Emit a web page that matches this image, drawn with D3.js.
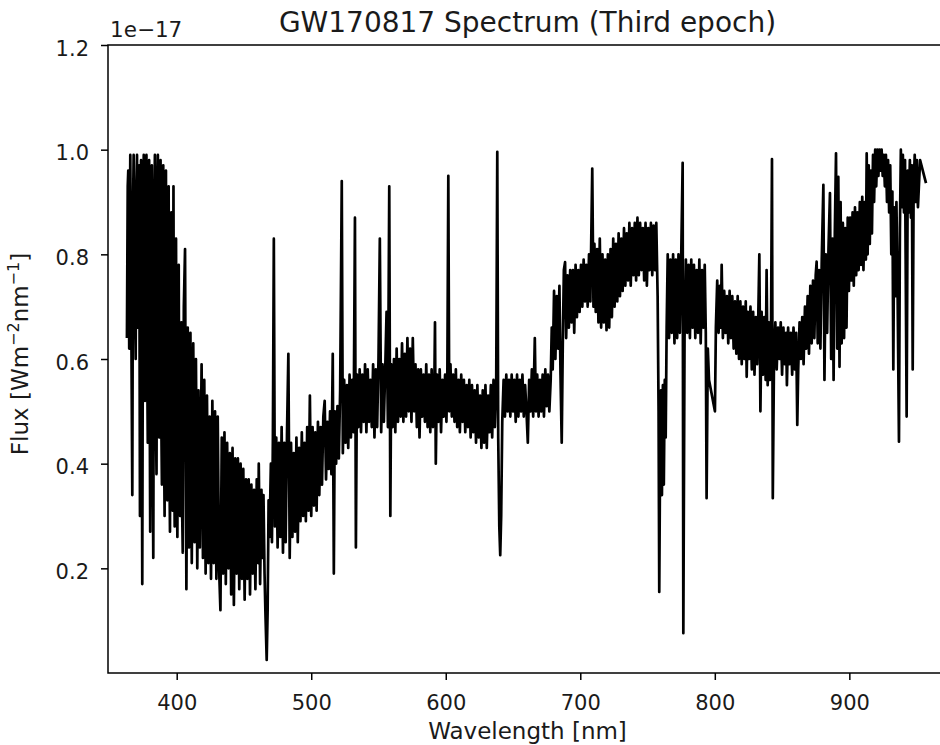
<!DOCTYPE html>
<html><head><meta charset="utf-8">
<script src="https://cdn.jsdelivr.net/npm/d3@7"></script>
<style>html,body{margin:0;padding:0;background:#fff;overflow:hidden}svg{display:block}</style>
</head><body><svg id="chart" width="940" height="745"></svg>
<script>
// Wavelength (nm) and flux (units of 1e-17 W m^-2 nm^-1)
const wavelength = [
363.0,363.6,364.0,364.7,365.5,366.2,367.0,367.5,368.0,368.7,
369.5,370.0,370.5,371.0,371.5,372.1,372.7,373.1,373.5,374.0,
374.4,375.0,375.5,376.0,376.5,377.0,377.5,378.0,378.5,379.0,
379.5,379.9,380.3,380.9,381.5,382.0,382.6,383.2,383.8,384.4,
385.0,385.5,386.0,386.5,387.0,387.5,388.0,388.5,389.0,389.5,
390.0,390.5,391.0,391.5,392.0,392.5,393.0,393.5,394.0,394.5,
395.0,395.5,396.0,396.5,397.0,397.6,398.0,398.5,399.0,399.5,
400.0,400.5,401.0,401.5,402.0,402.5,403.0,403.5,404.0,
404.5,405.3,406.2,407.2,408.2,409.2,410.2,411.2,412.3,413.3,
414.3,415.3,416.2,417.2,418.5,419.5,420.5,421.5,422.5,423.5,
424.5,425.5,426.5,427.5,428.5,429.5,430.5,431.5,432.5,433.5,
434.5,435.5,436.5,437.5,438.5,439.5,440.5,441.5,442.5,443.5,
444.5,445.5,446.5,447.5,448.5,449.5,450.5,451.5,452.5,453.5,
454.5,455.5,456.5,457.5,458.5,459.5,460.5,461.0,462.0,463.0,
464.0,464.5,465.3,466.0,466.9,467.6,468.3,469.0,470.0,470.8,
471.5,472.2,473.0,474.0,475.0,476.0,477.0,478.0,479.0,480.0,
481,482,483,484,485,486,487,488,489,490,
491,492,493,494,495,496,497,498,499,500,
501,502,503,504,505,506,507,508,509,510,
511,512,513,514,515,516,516.8,517.5,518.5,519.5,
520.5,521.5,522.7,523.5,524.5,525.5,526.5,527.5,528.5,529.5,
530.5,531.5,532.5,533.2,534,535,536,537,538,539,
540,541,542,543,544,545,546,547,548,549,
550,551,552,553,554,555,556,557,558,558.8,
559.5,560.5,561.5,562.5,563.5,564.5,565.5,566.5,567.5,568.5,
569.5,570.5,571.5,572.5,573.5,574.5,575.5,576.5,577.5,578.5,
579.5,580.5,581.5,582.5,583.5,584.5,585.5,586.5,587.5,588.5,
589.5,590.5,591.5,592.0,592.6,593.5,594.5,595.5,596.5,597.5,
598.5,599.5,600.5,601.2,601.9,602.6,603.5,604.5,605.5,606.5,
607.5,608.5,609.5,610.5,611.5,612.5,613.5,614.5,615.5,616.5,
617.5,618.5,619.5,620.5,621.5,622.5,623.5,624.5,625.5,626.5,
627.5,628.5,629.5,630.5,631.5,632.5,633.5,634.5,635.5,636.5,
637.5,638.3,639.0,639.8,640.5,641.2,642,643,644,645,
646,647,648,649,650,651,652,653,654,655,
656,657,658,659,660,661,662,663,664,665,
666.2,667,668,669,670,671,672,673,674,675,
676,677,678,678.8,679.5,680.5,681.5,682.5,683.5,684.5,
685.3,686.2,687.0,687.8,688.7,689.5,690.5,691.5,692.5,693.5,
694.5,695.5,696.5,697.5,698.5,699.5,700.5,701.5,702.5,703.5,
704.5,705.5,706.5,707.5,708.9,709.8,710.5,711.5,712.5,713.5,
714.5,715.5,716.5,717.5,718.5,719.5,720.5,721.5,722.5,723.5,
724.5,725.5,726.5,727.5,728.5,729.5,730.5,731.5,732.5,733.5,
734.5,735.5,736.5,737.5,738.5,739.5,740.5,741.5,742.5,743.5,
744.5,745.5,746.5,747.5,748.5,749.5,750.5,751.5,752.5,753.5,
754.5,755.5,756.5,757.5,758.2,758.7,759.3,760.0,760.7,761.4,
762.1,762.8,763.5,764.2,765,766,767,768,769,770,
771,772,773,774,775,776.1,776.6,777.5,778.5,779.5,
780.5,781.5,782.5,783.5,784.5,785.5,786.5,787.5,788.5,789.5,
790.5,791.5,792.5,793.3,793.9,794.8,795.7,800.1,800.8,801.8,
802.8,803.8,804.5,805.1,806,807,808,809,810,811,
812,813,814,815,816,817,818,819,820,821,
822,823,823.7,824.5,825.5,826.5,827.5,828.5,829.5,830.5,
831.5,832.3,833.1,833.9,834.8,835.8,836.8,837.8,838.5,839.3,
840.2,841.0,841.8,842.5,843.1,844,845,846,847,848,
849,850,851,852,853,853.6,854.5,855.5,856.5,857.5,
858.5,859.5,860.5,861.3,862,863,864,865,866,867,
868,869,870,871,872,873,874,875,875.7,876.5,
877.5,878.5,879.5,880.7,881.5,882.5,883.5,884.5,885.6,886.5,
887.5,888.3,889.2,890.1,891.0,891.8,892.7,893.5,894.3,895.2,
896.1,897.0,897.9,898.8,899.7,900.6,901.5,902.4,903.3,904.2,
905.1,906.0,906.9,907.8,908.7,909.6,910.5,911.4,912.3,912.9,
913.6,914.4,915.2,916.0,916.8,917.6,918.4,919.2,920.0,920.8,
921.6,922.4,923.2,924.0,924.8,925.6,926.4,927.2,928.0,928.8,
929.6,930.4,931.2,932.0,932.7,933.4,934.2,935.0,935.8,936.9,
937.6,938.3,939.0,939.8,940.6,941.4,942.6,943.4,944.2,945.0,
945.8,946.5,947.1,947.8,948.6,949.4,950.2,951.0,952.6,957.0
];
const flux = [
0.64,0.93,0.96,0.62,0.99,0.70,0.34,0.88,0.99,0.75,
0.60,0.92,0.99,0.66,0.86,0.97,0.30,0.80,0.98,0.58,
0.17,0.85,0.99,0.70,0.52,0.93,0.99,0.62,0.44,0.90,
0.98,0.55,0.27,0.86,0.97,0.48,0.22,0.88,0.99,0.52,
0.38,0.92,0.99,0.60,0.45,0.90,0.98,0.50,0.36,0.88,
0.97,0.47,0.30,0.86,0.96,0.45,0.33,0.82,0.93,0.42,
0.27,0.80,0.88,0.40,0.31,0.93,0.45,0.28,0.72,0.83,
0.38,0.26,0.66,0.78,0.35,0.30,0.62,0.67,0.32,
0.23,0.70,0.81,0.16,0.66,0.24,0.65,0.21,0.63,0.25,
0.60,0.20,0.54,0.24,0.59,0.22,0.56,0.19,0.53,0.21,
0.49,0.18,0.52,0.21,0.50,0.18,0.49,0.20,0.12,0.45,
0.19,0.46,0.17,0.44,0.20,0.42,0.15,0.43,0.13,0.41,
0.19,0.41,0.16,0.40,0.18,0.39,0.14,0.37,0.18,0.37,
0.15,0.36,0.19,0.35,0.16,0.37,0.21,0.40,0.17,0.35,
0.22,0.34,0.19,0.11,0.025,0.12,0.33,0.26,0.40,0.25,
0.45,0.83,0.28,0.45,0.24,0.44,0.26,0.47,0.23,0.44,
0.25,0.46,0.61,0.22,0.44,0.26,0.42,0.27,0.45,0.25,
0.43,0.29,0.46,0.30,0.44,0.29,0.47,0.31,0.53,0.30,
0.47,0.32,0.46,0.31,0.48,0.34,0.47,0.36,0.49,0.52,
0.37,0.48,0.39,0.50,0.38,0.61,0.19,0.50,0.40,0.51,
0.41,0.54,0.94,0.42,0.56,0.44,0.55,0.43,0.57,0.45,
0.56,0.46,0.87,0.24,0.57,0.47,0.58,0.46,0.57,0.48,
0.59,0.46,0.58,0.48,0.56,0.47,0.59,0.45,0.58,0.47,
0.60,0.83,0.46,0.59,0.48,0.58,0.69,0.47,0.93,0.30,
0.59,0.47,0.60,0.46,0.62,0.48,0.60,0.49,0.63,0.48,
0.61,0.49,0.64,0.50,0.62,0.48,0.64,0.50,0.59,0.47,
0.58,0.45,0.58,0.49,0.57,0.48,0.59,0.47,0.57,0.46,
0.58,0.47,0.55,0.67,0.40,0.57,0.48,0.58,0.46,0.56,
0.49,0.57,0.48,0.58,0.95,0.50,0.59,0.49,0.57,0.48,
0.58,0.47,0.56,0.46,0.57,0.48,0.56,0.46,0.55,0.47,
0.56,0.45,0.55,0.46,0.54,0.44,0.55,0.45,0.53,0.43,
0.54,0.44,0.55,0.43,0.53,0.46,0.55,0.45,0.56,0.47,
0.55,0.996,0.45,0.28,0.225,0.30,0.48,0.56,0.49,0.57,
0.50,0.56,0.49,0.57,0.50,0.56,0.48,0.57,0.49,0.56,
0.50,0.57,0.49,0.55,0.50,0.44,0.56,0.50,0.58,0.49,
0.64,0.50,0.57,0.49,0.56,0.50,0.57,0.49,0.58,0.51,
0.57,0.50,0.56,0.66,0.58,0.73,0.60,0.72,0.62,0.74,
0.57,0.44,0.63,0.77,0.785,0.64,0.76,0.66,0.77,0.67,
0.77,0.65,0.78,0.68,0.77,0.69,0.78,0.70,0.79,0.71,
0.78,0.70,0.80,0.71,0.964,0.70,0.82,0.69,0.81,0.67,
0.83,0.66,0.80,0.67,0.79,0.655,0.80,0.66,0.81,0.68,
0.83,0.70,0.82,0.71,0.84,0.72,0.83,0.73,0.85,0.74,
0.84,0.75,0.86,0.74,0.85,0.76,0.86,0.75,0.87,0.76,
0.86,0.77,0.85,0.75,0.86,0.74,0.85,0.77,0.86,0.76,
0.855,0.77,0.86,0.72,0.50,0.155,0.40,0.54,0.34,0.55,
0.36,0.56,0.45,0.66,0.80,0.64,0.79,0.65,0.80,0.63,
0.79,0.64,0.80,0.65,0.79,0.975,0.076,0.64,0.79,0.65,
0.78,0.64,0.79,0.66,0.78,0.64,0.77,0.65,0.79,0.63,
0.77,0.66,0.78,0.65,0.334,0.62,0.56,0.50,0.66,0.75,
0.65,0.74,0.66,0.78,0.64,0.73,0.65,0.72,0.63,0.73,
0.64,0.72,0.62,0.71,0.61,0.72,0.60,0.71,0.59,0.70,
0.60,0.71,0.566,0.69,0.60,0.70,0.58,0.69,0.57,0.68,
0.59,0.68,0.80,0.50,0.69,0.57,0.68,0.56,0.77,0.55,
0.67,0.56,0.66,0.982,0.334,0.60,0.67,0.58,0.66,0.60,
0.67,0.57,0.66,0.59,0.65,0.55,0.66,0.59,0.65,0.57,
0.66,0.58,0.65,0.474,0.58,0.67,0.60,0.68,0.59,0.70,
0.62,0.72,0.61,0.74,0.63,0.75,0.64,0.76,0.786,0.63,
0.77,0.62,0.79,0.933,0.56,0.80,0.65,0.81,0.917,0.60,
0.83,0.56,0.84,0.993,0.62,0.948,0.585,0.90,0.63,0.86,
0.64,0.85,0.66,0.87,0.73,0.87,0.75,0.88,0.74,0.89,
0.76,0.88,0.77,0.90,0.78,0.91,0.77,0.90,0.79,0.993,
0.80,0.97,0.82,0.96,0.84,0.99,0.90,1.00,0.93,1.00,
0.95,1.00,0.96,1.00,0.95,0.99,0.93,0.99,0.90,0.98,
0.88,0.97,0.80,0.92,0.58,0.89,0.72,0.90,0.75,0.442,
0.85,1.00,0.89,0.99,0.88,0.98,0.49,0.96,0.88,0.98,
0.87,0.97,0.58,0.93,0.99,0.90,0.98,0.89,0.98,0.936
];
const xTicks = [400, 500, 600, 700, 800, 900];
const yTicks = [0.2, 0.4, 0.6, 0.8, 1.0, 1.2];
const titleText = "GW170817 Spectrum (Third epoch)";
const xLabelText = "Wavelength [nm]";
const offsetText = "1e\u221217";

const FONT = "'DejaVu Sans', Verdana, sans-serif";
const TXT = "#1a1a1a";
const L = 108, R = 947, T = 45, B = 673;

const svg = d3.select("#chart");
svg.append("rect").attr("width", 940).attr("height", 745).attr("fill", "#fff");

const x = d3.scaleLinear().domain([348.93, 972.6]).range([L, R]);
const y = d3.scaleLinear().domain([0, 1.2]).range([B, T]);

const n = Math.min(wavelength.length, flux.length);
const pts = d3.range(n).map(i => [wavelength[i], flux[i]]);

svg.append("defs").append("clipPath").attr("id", "clip")
  .append("rect").attr("x", L).attr("y", T).attr("width", R - L).attr("height", B - T);

svg.append("path")
  .datum(pts)
  .attr("clip-path", "url(#clip)")
  .attr("fill", "none")
  .attr("stroke", "#000")
  .attr("stroke-width", 2.7)
  .attr("stroke-linejoin", "round")
  .attr("stroke-linecap", "butt")
  .attr("d", d3.line().x(d => x(d[0])).y(d => y(d[1])));

// axes
const gx = svg.append("g").attr("transform", `translate(0,${B})`)
  .call(d3.axisBottom(x).tickValues(xTicks).tickSize(7).tickFormat(d3.format("d")));
gx.select(".domain").remove();
gx.selectAll(".tick line").attr("stroke", "#000").attr("stroke-width", 1.5);
gx.selectAll(".tick text").attr("y", 36.5).attr("dy", null)
  .attr("font-family", FONT).attr("font-size", "21px").attr("fill", TXT);

const gy = svg.append("g").attr("transform", `translate(${L},0)`)
  .call(d3.axisLeft(y).tickValues(yTicks).tickSize(7).tickFormat(d3.format(".1f")));
gy.select(".domain").remove();
gy.selectAll(".tick line").attr("stroke", "#000").attr("stroke-width", 1.5);
gy.selectAll(".tick text").attr("x", -19).attr("dy", null).attr("y", 10)
  .attr("font-family", FONT).attr("font-size", "21px").attr("fill", TXT);

// spines
svg.append("rect").attr("x", L).attr("y", T).attr("width", R - L).attr("height", B - T)
  .attr("fill", "none").attr("stroke", "#000").attr("stroke-width", 1.5);

// texts
svg.append("text").attr("x", (L + R) / 2).attr("y", 32).attr("text-anchor", "middle")
  .attr("font-family", FONT).attr("font-size", "28px").attr("fill", TXT).text(titleText);

svg.append("text").attr("x", 110).attr("y", 37).attr("text-anchor", "start")
  .attr("font-family", FONT).attr("font-size", "21.5px").attr("fill", TXT).text(offsetText);

svg.append("text").attr("x", (L + R) / 2).attr("y", 738.5).attr("text-anchor", "middle")
  .attr("font-family", FONT).attr("font-size", "23px").attr("fill", TXT).text(xLabelText);

const yl = svg.append("text")
  .attr("transform", "translate(28,354) rotate(-90)")
  .attr("text-anchor", "middle")
  .attr("font-family", FONT).attr("font-size", "23px").attr("fill", TXT);
yl.append("tspan").text("Flux [Wm");
yl.append("tspan").attr("font-size", "16px").attr("dy", -9).text("\u22122");
yl.append("tspan").attr("dy", 9).text("nm");
yl.append("tspan").attr("font-size", "16px").attr("dy", -9).text("\u22121");
yl.append("tspan").attr("dy", 9).text("]");
</script></body></html>
